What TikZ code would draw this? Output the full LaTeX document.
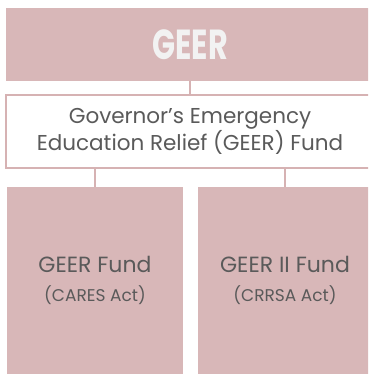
\documentclass[tikz,border=0pt]{standalone}
\usepackage{fontspec}
\setmainfont{Poppins}
\newfontfamily\titlefont[FakeStretch=0.72]{Poppins}
\usetikzlibrary{positioning}
\definecolor{rose}{HTML}{D8B7B8}
\definecolor{roseline}{HTML}{D6B2B3}
\definecolor{inkgray}{HTML}{5A5A5A}
\definecolor{titlewhite}{HTML}{F2F2F2}
\tikzset{
	every node/.append style={
		outer sep=0pt,
		align=center,
	},
	titlebox/.style={
		fill=rose,
		text=titlewhite,
		font={\titlefont\bfseries\fontsize{42}{46}\selectfont},
	},
	fundbox/.style={
		draw=roseline,
		line width=2pt,
		fill=white,
		text=inkgray,
		font={\fontsize{21.5}{25}\selectfont},
	},
	actbox/.style={
		fill=rose,
		text=inkgray,
		font={\fontsize{22}{29}\selectfont},
	},
	link/.style={
		draw=roseline,
		line width=1.2pt,
	},
}
\newcommand{\actline}[1]{{\fontsize{17}{20}\selectfont #1}}

\begin{document}
\begin{tikzpicture}[x=1pt,y=1pt]
\useasboundingbox (0,0) rectangle (368,-374);
\clip (0,0) rectangle (368,-374);

\node(geer)[titlebox, minimum width=368pt, minimum height=73pt, anchor=north west] at (6,-8) {GEER};
\node(fund)[fundbox, minimum width=368pt, minimum height=73pt, below=14pt of geer]{Governor's Emergency\\Education Relief (GEER) Fund};

\node(cares)[actbox, minimum width=176pt, minimum height=187pt, anchor=north west] at (7,-187) {GEER Fund\\\actline{(CARES Act)}};
\node(crrsa)[actbox, minimum width=174pt, minimum height=187pt, right=15pt of cares]{GEER II Fund\\\actline{(CRRSA Act)}};

\draw[link] (geer) -- (fund);
\draw[link] (fund.south -| cares.north) -- (cares.north);
\draw[link] (fund.south -| crrsa.north) -- (crrsa.north);

\end{tikzpicture}
\end{document}
